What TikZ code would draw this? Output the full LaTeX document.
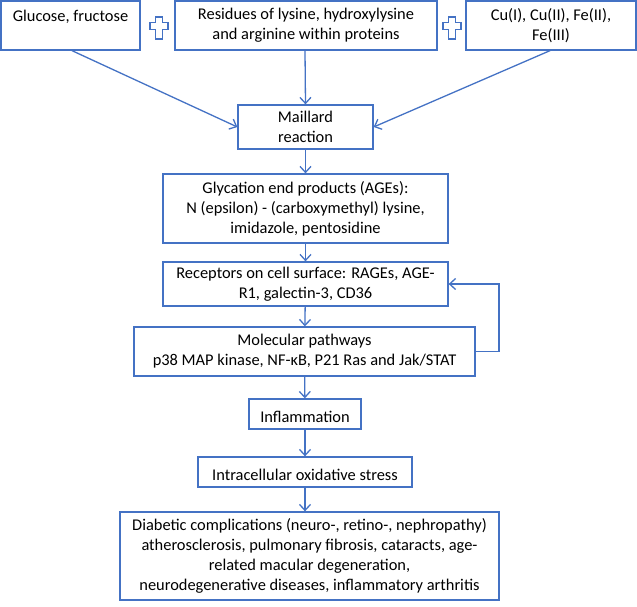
\documentclass[tikz,border=0pt]{standalone}
\usepackage{fontspec}
\setmainfont{Carlito}
\usetikzlibrary{arrows.meta}
\definecolor{lineblue}{RGB}{68,114,196}

\begin{document}
\begin{tikzpicture}[x=1pt,y=-1pt,
		box/.style={draw=lineblue,line width=1.3pt,fill=white,inner sep=0pt,align=center,font=\fontsize{16.4}{20}\selectfont,
			execute at begin node={\rule{0pt}{16.5pt}}},
		arr/.style={draw=lineblue,line width=1.3pt,-{Straight Barb[length=6pt,width=11pt]}},
		plus/.style={draw=lineblue,line width=1.3pt,fill=white}]
						\useasboundingbox (0,0) rectangle (637,607);
					
						\node[box,minimum width=139pt,minimum height=49pt] (glu) at (70.5,25.5) {Glucose, fructose\\\mbox{}};
						\node[box,minimum width=262pt,minimum height=49pt] (res) at (306,25.5) {Residues of lysine, hydroxylysine\\and arginine within proteins};
						\node[box,minimum width=170pt,minimum height=49pt] (cu) at (551,25.5) {Cu(I), Cu(II), Fe(II),\\Fe(III)};
						
						\draw[plus] (155.5,17) -- (162.5,17) -- (162.5,22.5) -- (168,22.5) -- (168,29.5) -- (162.5,29.5) -- (162.5,39) -- (155.5,39) -- (155.5,29.5) -- (150,29.5) -- (150,22.5) -- (155.5,22.5) -- cycle;
						\draw[plus] (448.5,17) -- (455.5,17) -- (455.5,22.5) -- (461,22.5) -- (461,29.5) -- (455.5,29.5) -- (455.5,39) -- (448.5,39) -- (448.5,29.5) -- (443,29.5) -- (443,22.5) -- (448.5,22.5) -- cycle;
						
						\node[box,minimum width=135pt,minimum height=44pt] (mai) at (305.5,127) {Maillard\\reaction};
						\node[box,minimum width=285pt,minimum height=69pt] (gly) at (305.5,208.5) {Glycation end products (AGEs):\\N (epsilon) - (carboxymethyl) lysine,\\imidazole, pentosidine};
						\node[box,minimum width=285pt,minimum height=44pt] (rec) at (305.5,284) {Receptors on cell surface: RAGEs, AGE-\\R1, galectin-3, CD36};
						\node[box,minimum width=341pt,minimum height=49pt] (mol) at (304.5,351.5) {Molecular pathways\\p38 MAP kinase, NF-κB, P21 Ras and Jak/STAT};
						\node[box,minimum width=112pt,minimum height=30pt] (inf) at (305,414) {Inflammation};
						\node[box,minimum width=214pt,minimum height=30pt] (ox) at (305,472) {Intracellular oxidative stress};
						\node[box,minimum width=379pt,minimum height=88pt] (dia) at (309.5,556) {Diabetic complications (neuro-, retino-, nephropathy)\\atherosclerosis, pulmonary fibrosis, cataracts, age-\\related macular degeneration,\\neurodegenerative diseases, inflammatory arthritis};
						
						\draw[arr] (glu.south) ++(1.5,0) -- (mai.west);
						\draw[arr] (res.south) ++(-1,0) -- (mai.north);
						\draw[arr] (cu.south) ++(-1,0) -- (mai.east);
						\draw[arr] (mai) -- (gly);
						\draw[arr] (gly) -- (rec);
						\draw[arr] (rec) -- (mol);
						\draw[arr] (mol) -- (inf);
						\draw[arr] (inf) -- (ox);
						\draw[arr] (ox.south) -- (ox.south |- dia.north);
						
						\coordinate (loop) at (499,351.5);
						\draw[arr] (mol.east) -- (loop) |- (rec.east);
					\end{tikzpicture}
\end{document}
